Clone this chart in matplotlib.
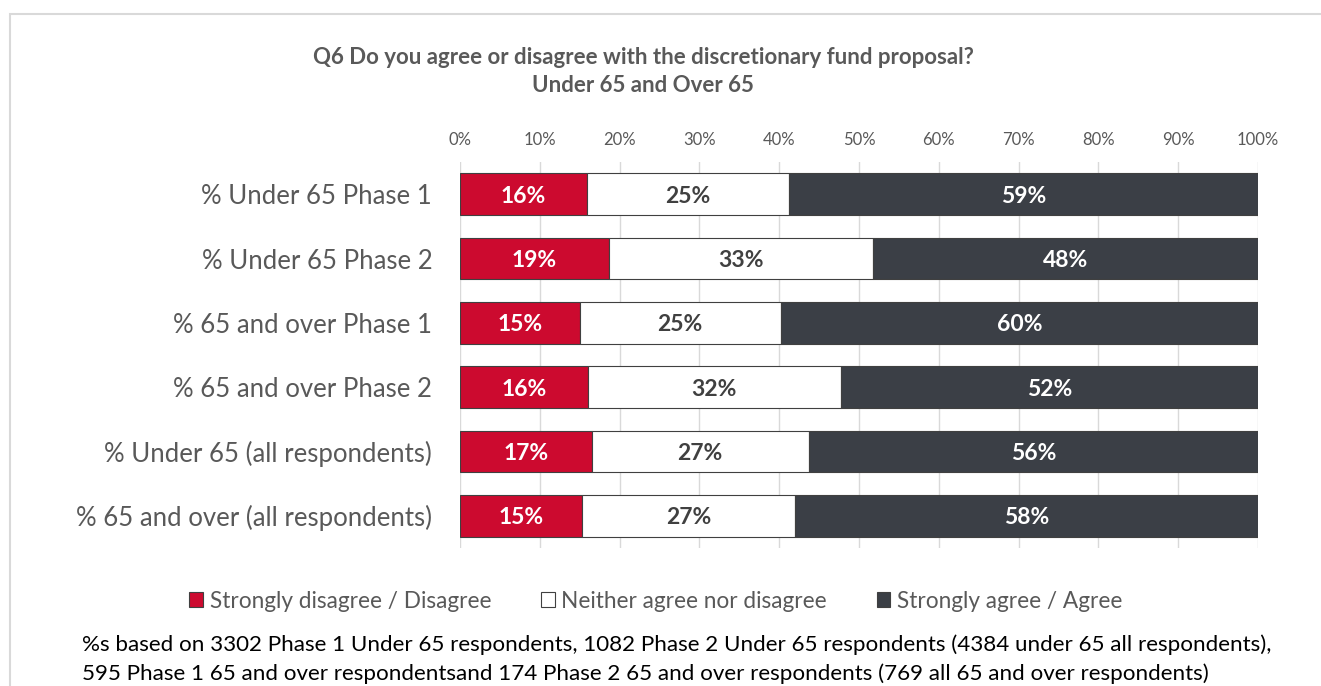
import matplotlib
matplotlib.use("Agg")
import matplotlib.pyplot as plt
from matplotlib.patches import Rectangle
from matplotlib.ticker import PercentFormatter

plt.rcParams["font.family"] = ["Lato", "DejaVu Sans"]

categories = [
    "% Under 65 Phase 1",
    "% Under 65 Phase 2",
    "% 65 and over Phase 1",
    "% 65 and over Phase 2",
    "% Under 65 (all respondents)",
    "% 65 and over (all respondents)",
]
disagree = [15.9, 18.7, 15.0, 16.0, 16.5, 15.3]
neither = [25.3, 33.1, 25.2, 31.7, 27.2, 26.7]
agree = [58.8, 48.2, 59.8, 52.3, 56.3, 58.0]
labels_disagree = ["16%", "19%", "15%", "16%", "17%", "15%"]
labels_neither = ["25%", "33%", "25%", "32%", "27%", "27%"]
labels_agree = ["59%", "48%", "60%", "52%", "56%", "58%"]

series_names = ["Strongly disagree / Disagree", "Neither agree nor disagree",
                "Strongly agree / Agree"]
RED, WHITE, DARK = "#CC0A2F", "#FFFFFF", "#3B3F46"
GREY = "#595959"

fig = plt.figure(figsize=(13.21, 6.86), dpi=100)
# light frame around the chart area
fig.add_artist(Rectangle((10 / 1321, -0.01), 1.1, 1 - 14 / 686 + 0.01,
                         transform=fig.transFigure, fill=False,
                         edgecolor="#d9d9d9", linewidth=1.5))

ax = fig.add_axes([0.3482, 0.2012, 0.6041, 0.5626])
y = list(range(len(categories)))
h = 0.65
left2 = [a + b for a, b in zip(disagree, neither)]
b1 = ax.barh(y, disagree, height=h, color=RED, edgecolor="#404040", linewidth=0.8,
             label=series_names[0], zorder=3)
b2 = ax.barh(y, neither, left=disagree, height=h, color=WHITE, edgecolor="#404040",
             linewidth=0.8, label=series_names[1], zorder=3)
b3 = ax.barh(y, agree, left=left2, height=h, color=DARK, edgecolor="#404040",
             linewidth=0.8, label=series_names[2], zorder=3)

# segment labels, centred in each segment
for bars, labs, col in [(b1, labels_disagree, "white"),
                        (b2, labels_neither, "#404040"),
                        (b3, labels_agree, "white")]:
    for rect, lab in zip(bars, labs):
        ax.text(rect.get_x() + rect.get_width() / 2, rect.get_y() + rect.get_height() / 2,
                lab, ha="center", va="center_baseline", color=col,
                fontsize=16.5, fontweight="bold", zorder=4)

ax.set_xlim(0, 100)
ax.set_ylim(len(categories) - 0.5, -0.5)
ax.set_xticks(range(0, 101, 10))
ax.xaxis.set_major_formatter(PercentFormatter(decimals=0))
ax.xaxis.tick_top()
ax.tick_params(axis="x", length=0, pad=10, labelsize=12, labelcolor=GREY)
ax.set_yticks(y)
ax.set_yticklabels(categories)
ax.tick_params(axis="y", length=0, pad=20, labelsize=18.5, labelcolor=GREY)
ax.grid(axis="x", color="#d9d9d9", linewidth=1, zorder=0)
for s in ax.spines.values():
    s.set_visible(False)

fig.text(0.487, 1 - 57 / 686, "Q6 Do you agree or disagree with the discretionary fund proposal?",
         ha="center", va="center", fontsize=16, fontweight="bold", color=GREY)
fig.text(0.487, 1 - 86 / 686, "Under 65 and Over 65",
         ha="center", va="center", fontsize=16, fontweight="bold", color=GREY)

fig.legend(handles=[b1, b2, b3], loc="center", bbox_to_anchor=(656 / 1321, 1 - 601 / 686),
           ncol=3, frameon=False, fontsize=16.3, labelcolor=GREY, handlelength=0.6,
           handleheight=0.6, handletextpad=0.3, columnspacing=2.2)

fig.text(82 / 1321, 1 - 645 / 686,
         "%s based on 3302 Phase 1 Under 65 respondents, 1082 Phase 2 Under 65 respondents "
         "(4384 under 65 all respondents),",
         ha="left", va="center", fontsize=16.1, color="black")
fig.text(82 / 1321, 1 - 674 / 686,
         "595 Phase 1 65 and over respondentsand 174 Phase 2 65 and over respondents "
         "(769 all 65 and over respondents)",
         ha="left", va="center", fontsize=16.1, color="black")

fig.savefig("out.png", dpi=100)
